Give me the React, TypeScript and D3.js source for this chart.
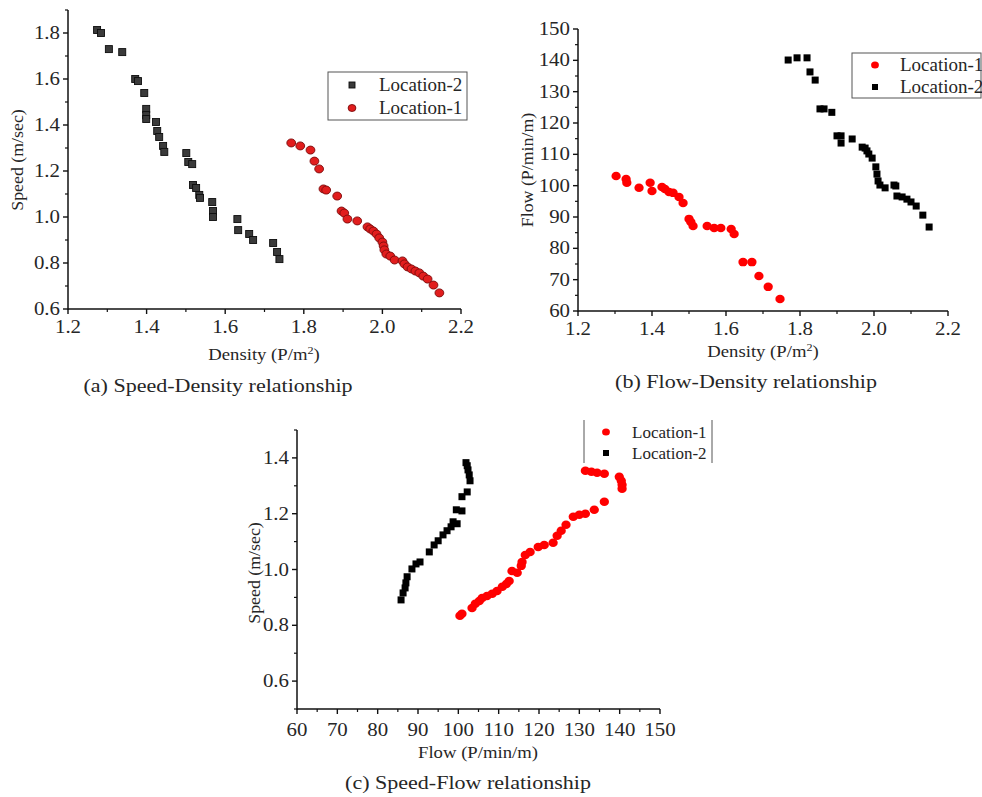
import React from 'react';
import * as d3 from 'd3';

// [density, speed] — panel (a)
const sdLoc2: [number, number][] = [
  [1.274, 1.813], [1.284, 1.8], [1.304, 1.73], [1.338, 1.717], [1.371, 1.6], [1.378, 1.591],
  [1.394, 1.539], [1.399, 1.47], [1.399, 1.443], [1.399, 1.426], [1.424, 1.413], [1.427, 1.374],
  [1.432, 1.348], [1.442, 1.309], [1.445, 1.283], [1.501, 1.278], [1.506, 1.239], [1.516, 1.23],
  [1.518, 1.139], [1.526, 1.126], [1.534, 1.096], [1.536, 1.083], [1.567, 1.065], [1.569, 1.026],
  [1.569, 1.0], [1.631, 0.991], [1.633, 0.943], [1.661, 0.926], [1.671, 0.9], [1.722, 0.887],
  [1.732, 0.848], [1.738, 0.817],
];
const sdLoc1: [number, number][] = [
  [1.768, 1.322], [1.791, 1.309], [1.817, 1.291], [1.827, 1.243], [1.839, 1.209], [1.85, 1.122],
  [1.857, 1.117], [1.885, 1.091], [1.896, 1.026], [1.903, 1.017], [1.911, 0.991], [1.936, 0.983],
  [1.962, 0.957], [1.969, 0.948], [1.977, 0.939], [1.985, 0.926], [1.992, 0.909], [2.0, 0.891],
  [2.003, 0.874], [2.005, 0.857], [2.01, 0.839], [2.02, 0.83], [2.031, 0.813], [2.051, 0.809],
  [2.056, 0.796], [2.064, 0.783], [2.074, 0.774], [2.084, 0.765], [2.094, 0.757], [2.104, 0.743],
  [2.115, 0.73], [2.13, 0.704], [2.145, 0.67],
];

// [density, flow] — panel (b)
const fdLoc1: [number, number][] = [
  [1.303, 103.1], [1.33, 102.1], [1.332, 100.9], [1.365, 99.3], [1.395, 100.9], [1.4, 98.3],
  [1.427, 99.6], [1.435, 98.9], [1.446, 98.0], [1.457, 97.7], [1.473, 96.4], [1.484, 94.5],
  [1.5, 89.4], [1.505, 88.4], [1.511, 87.1], [1.549, 87.1], [1.568, 86.5], [1.586, 86.5],
  [1.614, 86.2], [1.622, 84.6], [1.646, 75.6], [1.67, 75.6], [1.689, 71.2], [1.714, 67.7],
  [1.746, 63.8],
];
const fdLoc2: [number, number][] = [
  [1.768, 140.1], [1.792, 140.8], [1.819, 140.8], [1.827, 136.3], [1.841, 133.7], [1.854, 124.5],
  [1.865, 124.5], [1.886, 123.4], [1.9, 115.9], [1.911, 115.9], [1.911, 113.6], [1.941, 114.9],
  [1.968, 112.3], [1.976, 112.0], [1.981, 111.1], [1.986, 110.1], [1.995, 108.8], [2.005, 106.0],
  [2.008, 103.7], [2.011, 101.5], [2.016, 100.2], [2.03, 99.3], [2.054, 100.2], [2.059, 99.9],
  [2.062, 96.7], [2.076, 96.4], [2.089, 95.7], [2.1, 94.8], [2.114, 93.5], [2.132, 90.6],
  [2.149, 86.8],
];

// [flow, speed] — panel (c)
const sfLoc1: [number, number][] = [
  [131.5, 1.354], [133.0, 1.35], [134.4, 1.347], [136.2, 1.343], [139.9, 1.332], [140.4, 1.318],
  [140.6, 1.304], [140.6, 1.289], [136.2, 1.243], [133.7, 1.214], [131.5, 1.2], [130.0, 1.196],
  [128.5, 1.189], [126.7, 1.16], [125.5, 1.139], [124.5, 1.121], [123.5, 1.096], [121.3, 1.088],
  [119.8, 1.081], [117.8, 1.063], [116.6, 1.052], [115.8, 1.027], [115.6, 1.013], [114.6, 0.988],
  [113.3, 0.995], [112.6, 0.959], [111.9, 0.948], [110.9, 0.938], [109.6, 0.923], [108.4, 0.913],
  [107.1, 0.905], [105.9, 0.898], [105.2, 0.887], [104.2, 0.877], [103.4, 0.862], [100.9, 0.841],
  [100.4, 0.834],
];
const sfLoc2: [number, number][] = [
  [101.9, 1.383], [102.2, 1.372], [102.4, 1.357], [102.7, 1.339], [102.9, 1.318], [102.2, 1.278],
  [100.9, 1.261], [100.9, 1.21], [99.5, 1.214], [99.7, 1.164], [98.7, 1.171], [98.2, 1.153],
  [97.2, 1.139], [96.2, 1.124], [95.0, 1.103], [94.0, 1.088], [92.8, 1.063], [90.5, 1.027],
  [89.5, 1.02], [88.5, 1.002], [87.3, 0.974], [87.0, 0.952], [86.8, 0.934], [86.3, 0.916],
  [85.8, 0.891],
];

const densityTicks = [1.2, 1.4, 1.6, 1.8, 2.0, 2.2];
const speedTicksA = [0.6, 0.8, 1.0, 1.2, 1.4, 1.6, 1.8];
const flowTicksB = [60, 70, 80, 90, 100, 110, 120, 130, 140, 150];
const flowTicksC = [60, 70, 80, 90, 100, 110, 120, 130, 140, 150];
const speedTicksC = [0.6, 0.8, 1.0, 1.2, 1.4];
const seriesNames = ['Location-1', 'Location-2'];

const FONT = '"Liberation Serif", "Times New Roman", serif';
const TXT = '#262626';
const SX = 1.16; // the source image is stretched horizontally

type Series = { data: [number, number][]; shape: 'square' | 'circle'; fill: string; stroke?: string; size: number };

const Mark = ({ x, y, s }: { x: number; y: number; s: Series }) =>
  s.shape === 'square' ? (
    <rect x={x - s.size / 2} y={y - s.size / 2} width={s.size} height={s.size}
      fill={s.fill} stroke={s.stroke || 'none'} strokeWidth={0.9} />
  ) : (
    <ellipse cx={x} cy={y} rx={s.size / 2 + 0.4} ry={s.size / 2}
      fill={s.fill} stroke={s.stroke || 'none'} strokeWidth={0.9} />
  );

// wide text, drawn at (x, y) and stretched along x
const WText = ({ x, y, size, anchor = 'middle', rot = 0, sx = SX, children }:
  { x: number; y: number; size: number; anchor?: string; rot?: number; sx?: number; children: React.ReactNode }) => (
  <text transform={`translate(${x},${y}) rotate(${rot}) scale(${sx},1)`} textAnchor={anchor} fontSize={size} fill={TXT}>
    {children}
  </text>
);

type PanelProps = {
  x: d3.ScaleLinear<number, number>;
  y: d3.ScaleLinear<number, number>;
  xTicks: number[]; xMinor: number[]; xFmt: (d: number) => string;
  yTicks: number[]; yMinor: number[]; yFmt: (d: number) => string;
  xLabelGap: number;
  series: Series[];
};

const Panel = ({ x, y, xTicks, xMinor, xFmt, yTicks, yMinor, yFmt, xLabelGap, series }: PanelProps) => {
  const [x0, x1] = x.range();
  const [y0, y1] = y.range();
  return (
    <g>
      {series.map((s, i) => (
        <g key={i}>
          {s.data.map((d, j) => <Mark key={j} x={x(d[0])} y={y(d[1])} s={s} />)}
        </g>
      ))}
      <line x1={x0} x2={x1} y1={y0} y2={y0} stroke="#111" strokeWidth={1.5} />
      <line x1={x0} x2={x0} y1={y0 + 0.75} y2={y1} stroke="#111" strokeWidth={1.5} />
      {xMinor.map((t) => <line key={'xm' + t} x1={x(t)} x2={x(t)} y1={y0} y2={y0 + 3} stroke="#111" strokeWidth={1.2} />)}
      {xTicks.map((t) => (
        <g key={'x' + t}>
          <line x1={x(t)} x2={x(t)} y1={y0} y2={y0 + 5} stroke="#111" strokeWidth={1.4} />
          <WText x={x(t)} y={y0 + xLabelGap} size={18}>{xFmt(t)}</WText>
        </g>
      ))}
      {yMinor.map((t) => <line key={'ym' + t} x1={x0} x2={x0 - 3} y1={y(t)} y2={y(t)} stroke="#111" strokeWidth={1.2} />)}
      {yTicks.map((t) => (
        <g key={'y' + t}>
          <line x1={x0} x2={x0 - 5} y1={y(t)} y2={y(t)} stroke="#111" strokeWidth={1.4} />
          <WText x={x0 - 8} y={y(t) + 6} size={18} anchor="end">{yFmt(t)}</WText>
        </g>
      ))}
    </g>
  );
};

const minorBetween = (a: number, b: number, step: number) =>
  d3.range(a, b + step / 2, step).map((v) => +v.toFixed(3));

const DensityTitle = ({ x, y }: { x: number; y: number }) => (
  <WText x={x} y={y} size={17} sx={1.1}>
    Density (P/m<tspan dy={-6} fontSize={11}>2</tspan><tspan dy={6}>)</tspan>
  </WText>
);

export default function App() {
  const f1 = d3.format('.1f');
  const f0 = d3.format('d');

  const ax = d3.scaleLinear().domain([1.2, 2.2]).range([68, 461]);
  const ay = d3.scaleLinear().domain([0.6, 1.9]).range([309, 10]);
  const bx = d3.scaleLinear().domain([1.2, 2.2]).range([578, 948]);
  const by = d3.scaleLinear().domain([60, 150]).range([311, 29]);
  const cx = d3.scaleLinear().domain([60, 150]).range([297, 660]);
  const cy = d3.scaleLinear().domain([0.5, 1.5]).range([709, 430]);

  const darkSq: Series = { data: [], shape: 'square', fill: '#3a3a3a', stroke: '#0d0d0d', size: 7 };
  const redCirc: Series = { data: [], shape: 'circle', fill: '#e11d1d', stroke: '#7a0b0b', size: 8 };
  const blackSq: Series = { data: [], shape: 'square', fill: '#000', size: 7 };
  const pureRed: Series = { data: [], shape: 'circle', fill: '#ff0000', size: 8.5 };

  return (
    <svg width={982} height={797} style={{ display: 'block', position: 'absolute', left: 0, top: 0, background: '#fff' }}
      fontFamily={FONT}>
      <rect width={982} height={797} fill="#fff" />

      {/* (a) Speed-Density */}
      <Panel x={ax} y={ay} xTicks={densityTicks} xMinor={minorBetween(1.3, 2.1, 0.2)} xFmt={f1}
        yTicks={speedTicksA} yMinor={minorBetween(0.7, 1.9, 0.2)} yFmt={f1} xLabelGap={24}
        series={[{ ...darkSq, data: sdLoc2 }, { ...redCirc, data: sdLoc1 }]} />
      <DensityTitle x={264} y={360} />
      <WText x={23} y={160} size={17} rot={-90} sx={1.05}>Speed (m/sec)</WText>
      <WText x={218} y={392} size={19}>(a) Speed-Density  relationship</WText>
      <rect x={328} y={72} width={139} height={48} fill="#fff" stroke="#555" strokeWidth={1} />
      <Mark x={352} y={85} s={{ ...darkSq, size: 6 }} />
      <Mark x={352} y={108} s={{ ...redCirc, size: 7 }} />
      <text x={379} y={91} fontSize={19} fill={TXT}>{seriesNames[1]}</text>
      <text x={379} y={114} fontSize={19} fill={TXT}>{seriesNames[0]}</text>

      {/* (b) Flow-Density */}
      <Panel x={bx} y={by} xTicks={densityTicks} xMinor={minorBetween(1.3, 2.1, 0.2)} xFmt={f1}
        yTicks={flowTicksB} yMinor={minorBetween(65, 145, 10)} yFmt={f0} xLabelGap={24}
        series={[{ ...pureRed, data: fdLoc1 }, { ...blackSq, data: fdLoc2 }]} />
      <DensityTitle x={763} y={357} />
      <WText x={533} y={170} size={17} rot={-90} sx={1.05}>Flow (P/min/m)</WText>
      <WText x={746} y={388} size={19}>(b) Flow-Density relationship</WText>
      <rect x={852} y={53} width={129} height={45} fill="#fff" stroke="#555" strokeWidth={1} />
      <Mark x={875} y={65} s={{ ...pureRed, size: 7 }} />
      <Mark x={875} y={87} s={{ ...blackSq, size: 6 }} />
      <text x={900} y={71} fontSize={19} fill={TXT}>{seriesNames[0]}</text>
      <text x={900} y={93} fontSize={19} fill={TXT}>{seriesNames[1]}</text>

      {/* (c) Speed-Flow */}
      <Panel x={cx} y={cy} xTicks={flowTicksC} xMinor={minorBetween(65, 145, 10)} xFmt={f0}
        yTicks={speedTicksC} yMinor={minorBetween(0.5, 1.5, 0.2)} yFmt={f1} xLabelGap={27}
        series={[{ ...pureRed, data: sfLoc1 }, { ...blackSq, data: sfLoc2 }]} />
      <WText x={478} y={758} size={17} sx={1.1}>Flow (P/min/m)</WText>
      <WText x={260} y={573} size={17} rot={-90} sx={1.05}>Speed (m/sec)</WText>
      <WText x={468} y={789} size={19}>(c) Speed-Flow relationship</WText>
      <line x1={584} x2={584} y1={420} y2={463} stroke="#555" strokeWidth={1} />
      <line x1={712} x2={712} y1={420} y2={463} stroke="#555" strokeWidth={1} />
      <Mark x={606} y={432} s={{ ...pureRed, size: 7 }} />
      <Mark x={606} y={453} s={{ ...blackSq, size: 6 }} />
      <text x={632} y={438} fontSize={17} fill={TXT}>{seriesNames[0]}</text>
      <text x={632} y={459} fontSize={17} fill={TXT}>{seriesNames[1]}</text>
    </svg>
  );
}
